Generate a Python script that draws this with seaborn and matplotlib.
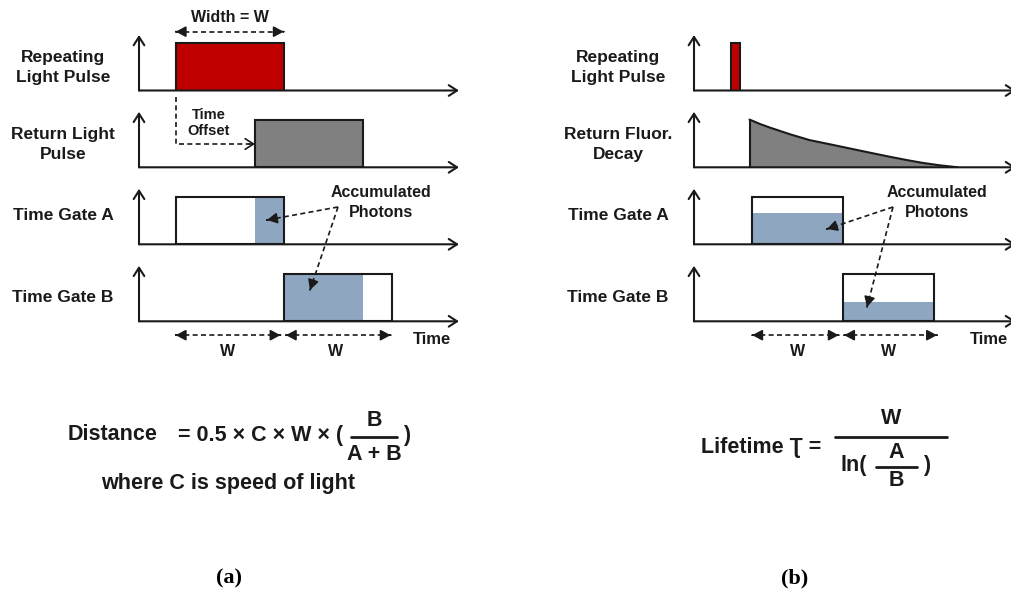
import matplotlib
matplotlib.use("Agg")
import matplotlib.pyplot as plt
import seaborn as sns
import numpy as np

sns.set_theme(style="white")
plt.rcParams["font.family"] = ["Liberation Sans", "DejaVu Sans"]
plt.rcParams["font.weight"] = "bold"

# ---------------- data (time in units of the gate width W) ----------------
row_labels_a = ["Repeating\nLight Pulse", "Return Light\nPulse", "Time Gate A", "Time Gate B"]
row_labels_b = ["Repeating\nLight Pulse", "Return Fluor.\nDecay", "Time Gate A", "Time Gate B"]

pulse_a = [0.34, 1.0]        # start, width
return_a = [1.07, 1.0]
gateA_a = [0.34, 1.0]
gateB_a = [1.34, 1.0]

pulse_b = [0.41, 0.10]
decay_t = [0.61, 0.725, 0.835, 1.055, 1.27, 1.495, 1.71, 1.934, 2.15, 2.34, 2.51, 2.70, 2.90]
decay_h = [0.86, 0.78, 0.715, 0.595, 0.49, 0.414, 0.34, 0.263, 0.19, 0.13, 0.08, 0.036, 0.0]
gateA_b = [0.64, 1.0]
gateB_b = [1.64, 1.0]
photons_b = [0.56, 0.34]     # accumulated level in gate A, gate B

pulse_h = 0.855
RED, GRAY, BLUE = "#C00000", "#808080", "#8FA6C1"
INK = "#1a1a1a"

FW, FH = 1011, 592
fig = plt.figure(figsize=(FW / 100, FH / 100), dpi=100)

bases = [90.5, 167.3, 244.3, 321.3]
ROWH = 55.5


def row_axes(x0, x1, base, span):
    ax = fig.add_axes([x0 / FW, 1 - base / FH, (x1 - x0) / FW, ROWH / FH])
    ax.set_xlim(0, span)
    ax.set_ylim(0, 1)
    ax.axis("off")
    ap = dict(arrowstyle="->,head_length=0.5,head_width=0.32", color=INK, lw=1.5,
              shrinkA=0, shrinkB=0, mutation_scale=12)
    ax.annotate("", xy=(1, 0), xytext=(0, 0), xycoords="axes fraction", arrowprops=ap)
    ax.annotate("", xy=(0, 1), xytext=(0, 0), xycoords="axes fraction", arrowprops=ap)
    return ax


def box(ax, seg, color, edge=True, h=pulse_h, z=2):
    ax.bar(seg[0], h, width=seg[1], align="edge", color=color,
           edgecolor=INK if edge else "none", linewidth=1.5 if edge else 0, zorder=z)


def outline(ax, seg):
    ax.bar(seg[0], pulse_h, width=seg[1], align="edge", facecolor="none",
           edgecolor=INK, linewidth=1.5, zorder=3)


def overlap(a, b):
    s = max(a[0], b[0])
    e = min(a[0] + a[1], b[0] + b[1])
    return [s, e - s]


def dashed(ax, xs, ys, tr):
    ax.plot(xs, ys, ls=(0, (3, 2)), lw=1.2, color=INK, transform=tr, clip_on=False, zorder=5)


def head(ax, tip, tail, tr, style="-|>,head_length=0.6,head_width=0.32", ms=10):
    ax.annotate("", xy=tip, xytext=tail, xycoords=tr, textcoords=tr,
                arrowprops=dict(arrowstyle=style, color=INK, lw=1.2, shrinkA=0, shrinkB=0,
                                mutation_scale=ms),
                annotation_clip=False, zorder=6)


def darrow(ax, p0, p1, tr, both=False):
    dashed(ax, [p0[0], p1[0]], [p0[1], p1[1]], tr)
    d = np.array(p1, float) - np.array(p0, float)
    d = d / np.hypot(*d) * 1e-3
    head(ax, p1, (p1[0] - d[0], p1[1] - d[1]), tr)
    if both:
        head(ax, p0, (p0[0] + d[0], p0[1] + d[1]), tr)


# ---------------- panel (a) ----------------
span_a = 320 / 108
axa = [row_axes(139, 459, b, span_a) for b in bases]
box(axa[0], pulse_a, RED)
box(axa[1], return_a, GRAY)
box(axa[2], overlap(return_a, gateA_a), BLUE, edge=False)
outline(axa[2], gateA_a)
box(axa[3], overlap(return_a, gateB_a), BLUE, edge=False)
outline(axa[3], gateB_a)

# Width = W arrow
t0 = axa[0].transData
darrow(axa[0], (pulse_a[0], 1.06), (pulse_a[0] + pulse_a[1], 1.06), t0, both=True)
axa[0].text(pulse_a[0] + pulse_a[1] / 2, 1.31, "Width = W", ha="center", va="center",
            fontsize=11.5, color=INK, transform=t0)

# bottom W arrows
t3 = axa[3].transData
darrow(axa[3], (gateA_a[0], -0.25), (gateA_a[0] + gateA_a[1] - 0.03, -0.25), t3, both=True)
darrow(axa[3], (gateB_a[0] + 0.02, -0.25), (gateB_a[0] + gateB_a[1] - 0.01, -0.25), t3, both=True)
for g in (gateA_a, gateB_a):
    axa[3].text(g[0] + g[1] / 2 - 0.02, -0.55, "W", ha="center", va="center",
                fontsize=11.5, color=INK, transform=t3)

# ---------------- panel (b) ----------------
span_b = 322 / 91
axb = [row_axes(694, 1016, b, span_b) for b in bases]
box(axb[0], pulse_b, RED)
axb[1].fill_between(decay_t, decay_h, color=GRAY, zorder=2, lw=0)
sns.lineplot(x=decay_t, y=decay_h, ax=axb[1], color=INK, lw=1.5, zorder=3)
axb[1].vlines(decay_t[0], 0, decay_h[0], color=INK, lw=1.5, zorder=3)
box(axb[2], gateA_b, BLUE, edge=False, h=photons_b[0])
outline(axb[2], gateA_b)
box(axb[3], gateB_b, BLUE, edge=False, h=photons_b[1])
outline(axb[3], gateB_b)

tb = axb[3].transData
darrow(axb[3], (gateA_b[0], -0.25), (gateA_b[0] + gateA_b[1] - 0.05, -0.25), tb, both=True)
darrow(axb[3], (gateB_b[0] + 0.01, -0.25), (gateB_b[0] + gateB_b[1] + 0.03, -0.25), tb, both=True)
for g in (gateA_b, gateB_b):
    axb[3].text(g[0] + g[1] / 2, -0.55, "W", ha="center", va="center",
                fontsize=11.5, color=INK, transform=tb)

# ---------------- overlay (labels & annotations, pixel coords) ----------------
ov = fig.add_axes([0, 0, 1, 1])
ov.set_xlim(0, FW)
ov.set_ylim(FH, 0)
ov.axis("off")
tp = ov.transData

label_y = [67.5, 144.5, 216, 298]
for lab, y in zip(row_labels_a, label_y):
    ov.text(63, y, lab, ha="center", va="center", fontsize=12.5, color=INK, linespacing=1.45)
for lab, y in zip(row_labels_b, label_y):
    ov.text(618, y, lab, ha="center", va="center", fontsize=12.5, color=INK, linespacing=1.45)

# time offset
dashed(ov, [176, 176, 250], [97, 144, 144], tp)
head(ov, (255, 144), (249, 144), tp, style="->,head_length=0.5,head_width=0.32", ms=12)
ov.text(209, 123, "Time\nOffset", ha="center", va="center", fontsize=10.5, color=INK,
        linespacing=1.15)

# accumulated photons
for cx, src, tips in [(381, (338, 207), [(267, 220), (310, 290)]),
                      (937, (893, 207), [(827, 229), (867, 307)])]:
    ov.text(cx, 202.5, "Accumulated\nPhotons", ha="center", va="center", fontsize=11.5,
            color=INK, linespacing=1.4)
    for tip in tips:
        darrow(ov, src, tip, tp)

ov.text(432, 339, "Time", ha="center", va="center", fontsize=12, color=INK)
ov.text(970, 339, "Time", ha="left", va="center", fontsize=12, color=INK)

# formula (a)
FS = 15.5
ov.text(68, 435, "Distance", ha="left", va="center", fontsize=FS, color=INK)
ov.text(261, 435, "= 0.5 × C × W × (", ha="center", va="center", fontsize=FS, color=INK)
ov.text(374, 420, "B", ha="center", va="center", fontsize=FS, color=INK)
ov.plot([351, 397], [437, 437], color=INK, lw=2)
ov.text(374, 454, "A + B", ha="center", va="center", fontsize=FS, color=INK)
ov.text(403, 435, ")", ha="left", va="center", fontsize=FS, color=INK)
ov.text(228, 483, "where C is speed of light", ha="center", va="center", fontsize=FS, color=INK)

# formula (b)
ov.text(701, 447, "Lifetime Ʈ =", ha="left", va="center", fontsize=FS, color=INK)
ov.text(891, 418, "W", ha="center", va="center", fontsize=FS, color=INK)
ov.plot([835, 947], [436.5, 436.5], color=INK, lw=2)
ov.text(840, 466, "ln(", ha="left", va="center", fontsize=FS, color=INK)
ov.text(896, 453, "A", ha="center", va="center", fontsize=FS, color=INK)
ov.plot([876, 917], [467, 467], color=INK, lw=2)
ov.text(896, 480, "B", ha="center", va="center", fontsize=FS, color=INK)
ov.text(923, 466, ")", ha="left", va="center", fontsize=FS, color=INK)

# captions
for x, cap in [(229, "(a)"), (795, "(b)")]:
    ov.text(x, 578, cap, ha="center", va="center", fontsize=16, color="black",
            family=["Liberation Serif", "DejaVu Serif"], fontweight="bold")

fig.savefig("out.png", dpi=100, facecolor="white")
